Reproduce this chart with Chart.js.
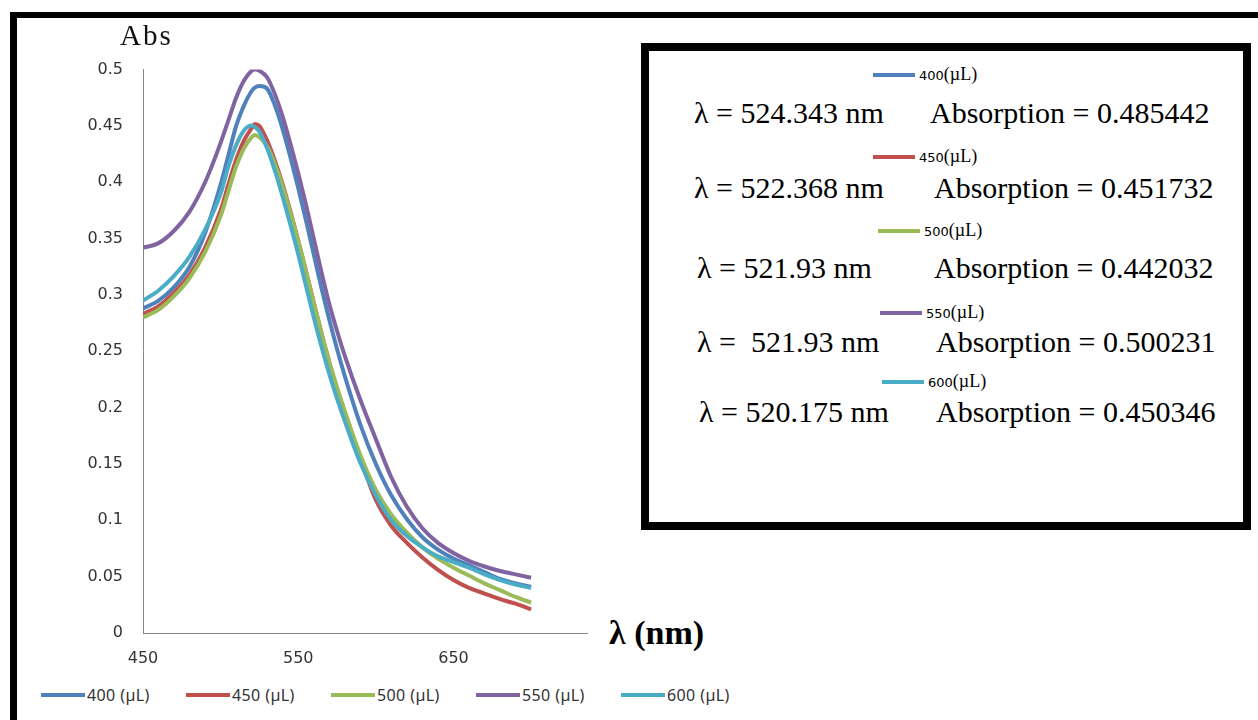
<!DOCTYPE html>
<html>
<head>
<meta charset="utf-8">
<title>Abs spectra</title>
<script src="https://cdn.jsdelivr.net/npm/chart.js@4.4.0/dist/chart.umd.min.js"></script>
<style>
  body { margin: 0; width: 1258px; height: 720px; overflow: hidden; background: #fff; position: relative; }
  #frame { position: absolute; left: 10px; top: 12px; width: 1300px; height: 800px;
           border-left: 7px solid #000; border-top: 6px solid #000; }
  #chartWrap { position: absolute; left: 20px; top: 40px; width: 580px; height: 640px; }
  .serif { font-family: "Liberation Serif", "Times New Roman", serif; color: #000; white-space: pre; }
  .greek { font-family: "Liberation Serif", "DejaVu Serif", serif; }
  .sans { font-family: "DejaVu Sans", Verdana, sans-serif; }
  #absTitle { position: absolute; left: 120px; top: 21px; font-size: 29px; line-height: 29px; color: #111; letter-spacing: 2px; }
  #xTitle { position: absolute; left: 609px; top: 616px; font-size: 34px; line-height: 34px; font-weight: bold; }
  #peakBox { position: absolute; left: 641px; top: 43px; width: 610px; height: 487px;
             border: 8px solid #000; box-sizing: border-box; }
  .abs { position: absolute; }
  .swatch { display: inline-block; height: 4px; vertical-align: middle; }
  #legend { position: absolute; left: 41px; top: 684px; display: flex; align-items: center; }
  #legend .item { display: flex; align-items: center; width: 145px; font-family: "Noto Sans", sans-serif;
                  font-size: 16px; letter-spacing: 0.4px; color: #333; }
</style>
</head>
<body>
<div id="frame"></div>
<div id="chartWrap"><canvas id="specChart"></canvas></div>
<div id="absTitle" class="serif">Abs</div>
<div id="xTitle" class="serif"><span class="greek">λ</span><span> (nm)</span></div>
<div id="peakBox"></div>
<div id="legend"></div>

<script>
// wavelength grid (nm) and absorbance for each volume
const wavelengths = [450, 460, 470, 480, 490, 500, 505, 510, 515, 520, 522, 525, 530, 535, 540, 545, 550, 555,
  560, 565, 570, 575, 580, 590, 600, 610, 620, 630, 640, 650, 660, 670, 680, 690, 700];

const abs400 = [0.288, 0.295, 0.307, 0.325, 0.355, 0.398, 0.424, 0.450, 0.468, 0.481, 0.484, 0.4854, 0.483, 0.468,
  0.447, 0.422, 0.395, 0.366, 0.336, 0.306, 0.278, 0.252, 0.228, 0.185, 0.150, 0.122, 0.101, 0.085, 0.074, 0.066,
  0.060, 0.054, 0.048, 0.044, 0.041];
const abs450 = [0.283, 0.290, 0.302, 0.318, 0.342, 0.375, 0.398, 0.420, 0.437, 0.448, 0.4517, 0.450, 0.437, 0.419,
  0.398, 0.374, 0.348, 0.321, 0.293, 0.266, 0.240, 0.216, 0.195, 0.155, 0.118, 0.095, 0.080, 0.067, 0.056, 0.047,
  0.040, 0.035, 0.030, 0.026, 0.021];
const abs500 = [0.280, 0.287, 0.299, 0.315, 0.338, 0.370, 0.392, 0.414, 0.430, 0.440, 0.442, 0.440, 0.432, 0.416,
  0.396, 0.373, 0.348, 0.321, 0.293, 0.266, 0.241, 0.218, 0.197, 0.158, 0.127, 0.105, 0.089, 0.076, 0.066, 0.058,
  0.051, 0.044, 0.038, 0.032, 0.027];
const abs550 = [0.342, 0.346, 0.357, 0.374, 0.400, 0.435, 0.455, 0.475, 0.490, 0.499, 0.5002, 0.499, 0.493, 0.478,
  0.458, 0.434, 0.408, 0.380, 0.350, 0.320, 0.292, 0.268, 0.246, 0.207, 0.172, 0.138, 0.112, 0.093, 0.080, 0.071,
  0.064, 0.059, 0.055, 0.052, 0.049];
const abs600 = [0.295, 0.304, 0.317, 0.334, 0.358, 0.390, 0.414, 0.433, 0.446, 0.4503, 0.449, 0.445, 0.430, 0.410,
  0.387, 0.362, 0.336, 0.308, 0.280, 0.254, 0.230, 0.208, 0.188, 0.151, 0.122, 0.100, 0.086, 0.076, 0.068, 0.063,
  0.058, 0.052, 0.047, 0.043, 0.040];

const volumes = ["400", "450", "500", "550", "600"];
const seriesColors = ["#4F81BD", "#C0504D", "#9BBB59", "#8064A2", "#4BACC6"];
const peakLambda = ["524.343", "522.368", "521.93", " 521.93", "520.175"];
const peakAbs = ["0.485442", "0.451732", "0.442032", "0.500231", "0.450346"];

const xTicks = [450, 550, 650];
const xMin = 450, xMax = 736;
const yMin = 0, yMax = 0.5, yStep = 0.05;

const allSeries = [abs400, abs450, abs500, abs550, abs600];

const datasets = allSeries.map((vals, i) => ({
  label: volumes[i] + " (µL)",
  data: wavelengths.map((w, k) => ({ x: w, y: vals[k] })),
  borderColor: seriesColors[i],
  backgroundColor: seriesColors[i],
  borderWidth: 4,
  pointRadius: 0,
  cubicInterpolationMode: "monotone",
  order: allSeries.length - i   // later series drawn on top
}));

const axisGrey = "#868686";
const tickFont = { family: "DejaVu Sans", size: 16 };

new Chart(document.getElementById("specChart"), {
  type: "line",
  data: { datasets },
  options: {
    responsive: true,
    maintainAspectRatio: false,
    animation: false,
    layout: { padding: { top: 29, right: 13, left: 0, bottom: 0 } },
    plugins: { legend: { display: false }, tooltip: { enabled: false } },
    scales: {
      x: {
        type: "linear",
        min: xMin,
        max: xMax,
        afterBuildTicks: (axis) => { axis.ticks = xTicks.map(v => ({ value: v })); },
        afterFit: (axis) => { axis.height = 47; },
        grid: { drawOnChartArea: false, drawTicks: false },
        border: { color: axisGrey, width: 1 },
        ticks: { font: tickFont, color: "#333", padding: 16, maxRotation: 0 }
      },
      y: {
        min: yMin,
        max: yMax,
        afterFit: (axis) => { axis.width = 123; },
        grid: { drawOnChartArea: false, drawTicks: false },
        border: { color: axisGrey, width: 1 },
        ticks: {
          stepSize: yStep,
          font: tickFont,
          color: "#333",
          padding: 20,
          callback: (v) => String(+v.toFixed(2))
        }
      }
    }
  }
});

// bottom legend
const legend = document.getElementById("legend");
volumes.forEach((v, i) => {
  const item = document.createElement("div");
  item.className = "item";
  item.innerHTML = `<span class="swatch" style="width:44px;background:${seriesColors[i]};margin-right:2px"></span>${v} (µL)`;
  legend.appendChild(item);
});

// peak box: mini legend line + lambda / absorption row for each series
const legendY = [73, 155, 229, 311, 380];
const legendX = [873, 873, 878, 880, 882];
const rowY = [113, 188, 268, 342, 412];
const lambdaX = [694, 694, 697, 697, 699];
const absX = [930, 934, 934, 936, 936];

function place(html, x, cy, size) {
  const d = document.createElement("div");
  d.className = "abs serif";
  d.style.left = x + "px";
  d.style.top = (cy - size / 2) + "px";
  d.style.fontSize = size + "px";
  d.style.lineHeight = size + "px";
  d.innerHTML = html;
  document.body.appendChild(d);
}

volumes.forEach((v, i) => {
  place(`<span class="swatch" style="width:42px;background:${seriesColors[i]};margin-right:4px"></span>` +
        `<span class="sans" style="font-size:13px">${v}</span><span style="font-size:18px">(µL)</span>`,
        legendX[i], legendY[i], 20);
  place(`<span class="greek">λ</span><span> = ${peakLambda[i]} nm</span>`, lambdaX[i], rowY[i], 30);
  place(`Absorption = ${peakAbs[i]}`, absX[i], rowY[i], 30);
});
</script>
</body>
</html>
